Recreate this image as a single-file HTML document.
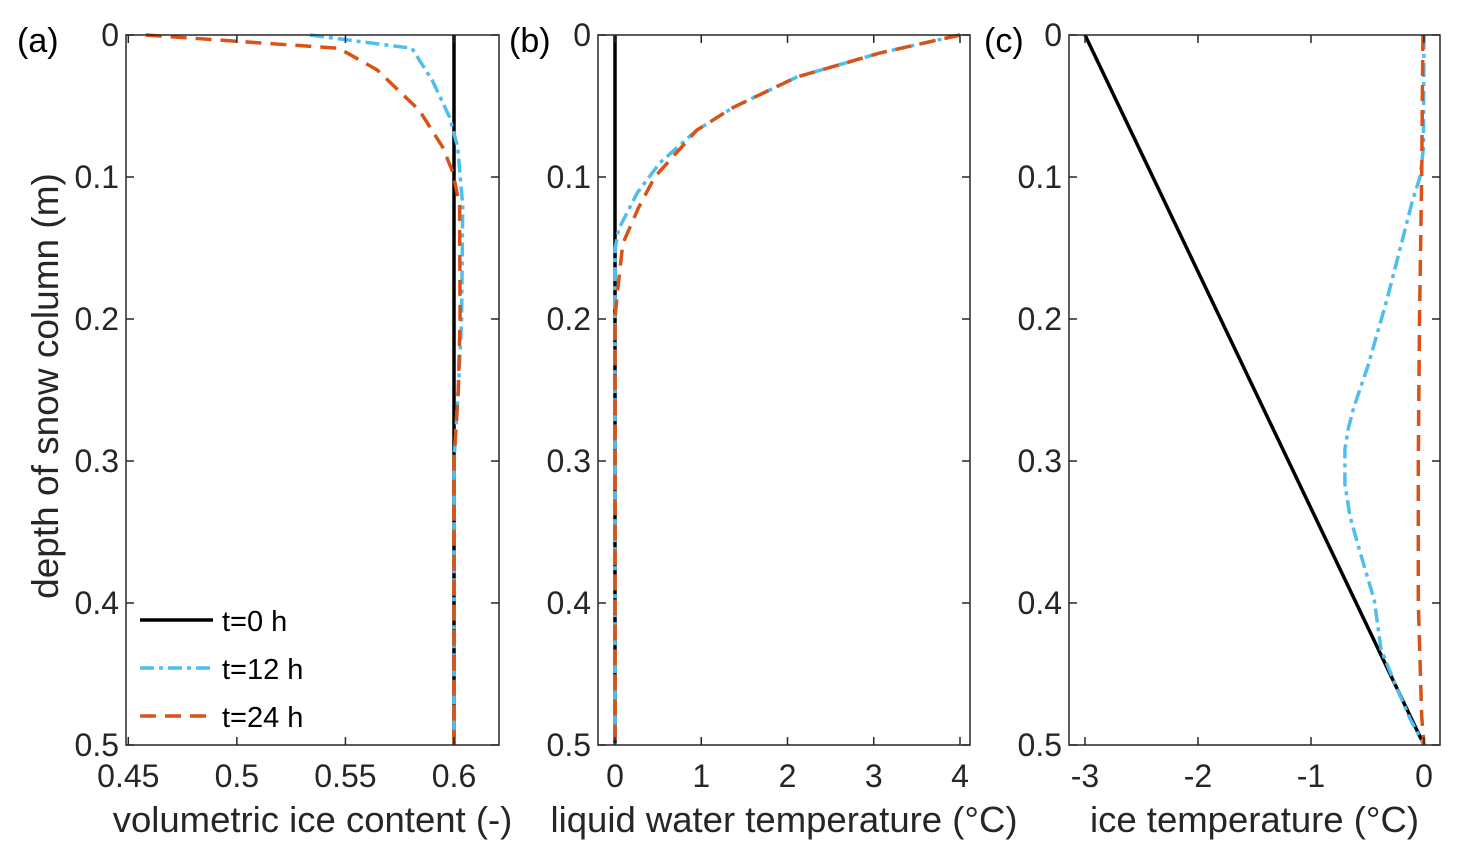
<!DOCTYPE html>
<html><head><meta charset="utf-8"><style>
body{margin:0;background:#fff;}
svg{display:block;font-family:"Liberation Sans",Arial,sans-serif;}
</style></head><body>
<svg id="chart" width="1460" height="860"></svg>
<script>
const depthTicks=[0,0.1,0.2,0.3,0.4,0.5];
const depthTickLabels=["0","0.1","0.2","0.3","0.4","0.5"];
// panel a: volumetric ice content
const aTicks=[0.45,0.5,0.55,0.6];
const aTickLabels=["0.45","0.5","0.55","0.6"];
const aT0Depth=[0,0.5];
const aT0Val=[0.6,0.6];
const aT12Depth=[0,0.0094,0.032,0.058,0.079,0.12,0.2,0.25,0.3,0.5];
const aT12Val=[0.5337,0.5806,0.590,0.598,0.6017,0.604,0.6035,0.602,0.6,0.6];
const aT24Depth=[0,0.0094,0.0246,0.053,0.079,0.0965,0.12,0.2,0.25,0.3,0.5];
const aT24Val=[0.458,0.547,0.5646,0.584,0.5948,0.5994,0.6026,0.6028,0.602,0.6,0.6];
// panel b: liquid water temperature
const bTicks=[0,1,2,3,4];
const bTickLabels=["0","1","2","3","4"];
const bT0Depth=[0,0.5];
const bT0Val=[0,0];
const bT12Depth=[0,0.0127,0.0296,0.051,0.067,0.09,0.111,0.137,0.151,0.5];
const bT12Val=[4.0,3.07,2.11,1.37,0.95,0.52,0.26,0.04,0,0];
const bT24Depth=[0,0.0127,0.0296,0.051,0.067,0.1,0.122,0.147,0.186,0.2,0.5];
const bT24Val=[4.0,3.07,2.11,1.37,0.95,0.46,0.27,0.09,0.02,0,0];
// panel c: ice temperature
const cTicks=[-3,-2,-1,0];
const cTickLabels=["-3","-2","-1","0"];
const cT0Depth=[0,0.5];
const cT0Val=[-3,0];
const cT12Depth=[0,0.08,0.1,0.116,0.15,0.187,0.234,0.262,0.277,0.292,0.316,0.339,0.363,0.398,0.433,0.46,0.482,0.5];
const cT12Val=[0,-0.005,-0.035,-0.10,-0.21,-0.33,-0.50,-0.62,-0.67,-0.70,-0.70,-0.655,-0.57,-0.44,-0.38,-0.24,-0.12,0];
const cT24Depth=[0,0.1,0.2,0.3,0.4,0.48,0.5];
const cT24Val=[-0.01,-0.02,-0.04,-0.05,-0.05,-0.02,0];

const NS="http://www.w3.org/2000/svg";
const svg=document.getElementById('chart');
function mk(tag,attrs,parent){const e=document.createElementNS(NS,tag);for(const k in attrs)e.setAttribute(k,attrs[k]);(parent||svg).appendChild(e);return e;}
const TOP=35,BOT=745;
function yScale(d){return TOP+(d/0.5)*(BOT-TOP);}

function panel(key,L,R,x0,v0,x1,v1,ticks,labels,xlabel,labX,series){
  const xs=v=>x0+(v-v0)*(x1-x0)/(v1-v0);
  const g=mk('g',{});
  
  
  series.forEach(s=>{
    const pts=s.d.map((d,i)=>xs(s.v[i]).toFixed(1)+','+yScale(d).toFixed(1)).join(' ');
    const p=mk('polyline',{points:pts,fill:'none',stroke:s.c,'stroke-width':3.5,'stroke-dasharray':s.dash||'none','stroke-linejoin':'round'},g);
    
    
  });
  const box=mk('rect',{x:L,y:TOP,width:R-L,height:BOT-TOP,fill:'none',stroke:'#262626','stroke-width':1.5},g);
  
  
  ticks.forEach((t,i)=>{
    const x=xs(t);
    mk('line',{x1:x,x2:x,y1:BOT,y2:BOT-8,stroke:'#262626','stroke-width':1.5},g);
    mk('line',{x1:x,x2:x,y1:TOP,y2:TOP+8,stroke:'#262626','stroke-width':1.5},g);
    const tx=mk('text',{x:x,y:BOT+42,'text-anchor':'middle','font-size':32,fill:'#262626'},g);
    tx.textContent=labels[i];
    
    
  });
  depthTicks.forEach((t,i)=>{
    const y=yScale(t);
    mk('line',{x1:L,x2:L+8,y1:y,y2:y,stroke:'#262626','stroke-width':1.5},g);
    mk('line',{x1:R,x2:R-8,y1:y,y2:y,stroke:'#262626','stroke-width':1.5},g);
    const ty=mk('text',{x:L-7,y:y+11,'text-anchor':'end','font-size':32,fill:'#262626'},g);
    ty.textContent=depthTickLabels[i];
    
    
  });
  const xl=mk('text',{x:(L+R)/2,y:832,'text-anchor':'middle','font-size':36.5,fill:'#262626'},g);
  xl.textContent=xlabel;
  
  
  const pl=mk('text',{x:labX,y:52,'font-size':34,fill:'#000'},g);
  pl.textContent='('+key+')';
  
  
}
const BLK='#000',BLU='#4DBEEE',ORG='#D95319';
const DD='14,5,4,5',DA='16,9';
panel('a',126,499,128.3,0.45,454,0.6,aTicks,aTickLabels,'volumetric ice content (-)',17,[
 {name:'t0',d:aT0Depth,v:aT0Val,c:BLK},
 {name:'t12',d:aT12Depth,v:aT12Val,c:BLU,dash:DD},
 {name:'t24',d:aT24Depth,v:aT24Val,c:ORG,dash:DA}]);
panel('b',598,970,615,0,960,4,bTicks,bTickLabels,'liquid water temperature (°C)',509,[
 {name:'t0',d:bT0Depth,v:bT0Val,c:BLK},
 {name:'t12',d:bT12Depth,v:bT12Val,c:BLU,dash:DD},
 {name:'t24',d:bT24Depth,v:bT24Val,c:ORG,dash:DA}]);
panel('c',1069,1440,1085,-3,1424,0,cTicks,cTickLabels,'ice temperature (°C)',984,[
 {name:'t0',d:cT0Depth,v:cT0Val,c:BLK},
 {name:'t12',d:cT12Depth,v:cT12Val,c:BLU,dash:DD},
 {name:'t24',d:cT24Depth,v:cT24Val,c:ORG,dash:DA}]);

const yl=mk('text',{x:0,y:0,'text-anchor':'middle','font-size':37,fill:'#262626',transform:'translate(58,386) rotate(-90)'});
yl.textContent='depth of snow column (m)';



const legend=mk('g',{});


[['t=0 h',BLK,'none',620],['t=12 h',BLU,DD,668],['t=24 h',ORG,DA,716]].forEach(([lab,c,dash,y])=>{
  const ln=mk('line',{x1:140,x2:213,y1:y,y2:y,stroke:c,'stroke-width':3.5,'stroke-dasharray':dash},legend);
  
  
  const t=mk('text',{x:222,y:y+11,'font-size':29,fill:'#000'},legend);
  t.textContent=lab;
  
  
});
</script>
</body></html>
